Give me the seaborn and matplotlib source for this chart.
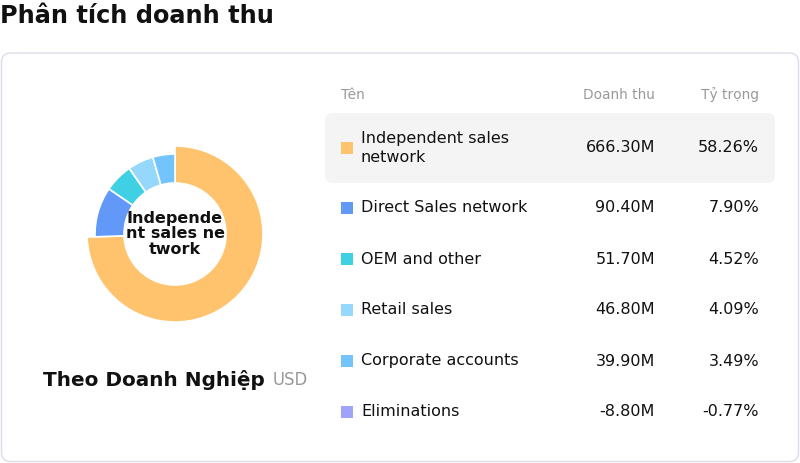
import matplotlib
matplotlib.use("Agg")
import matplotlib.pyplot as plt
from matplotlib.patches import FancyBboxPatch, Rectangle
import seaborn as sns

# data
names = ["Independent sales\nnetwork", "Direct Sales network", "OEM and other",
         "Retail sales", "Corporate accounts", "Eliminations"]
revenue = [666.30, 90.40, 51.70, 46.80, 39.90, -8.80]
share = [58.26, 7.90, 4.52, 4.09, 3.49, -0.77]
colors = ["#FFC36E", "#6299F9", "#3FD0E4", "#95D8FC", "#73C3FC", "#A0A3FA"]
center_label = "Independe\nnt sales ne\ntwork"

sns.set_theme(style="white")
plt.rcParams["font.family"] = ["DejaVu Sans"]

W, H = 800, 463
fig = plt.figure(figsize=(W / 100, H / 100), dpi=100)
fig.patch.set_facecolor("white")

# background axes in pixel coordinates
bg = fig.add_axes([0, 0, 1, 1])
bg.set_xlim(0, W)
bg.set_ylim(H, 0)
bg.axis("off")

def px(size):
    return size * 0.72

bg.text(0, 16, "Phân tích doanh thu", fontsize=px(24), fontweight="bold",
        color="#111111", va="center", ha="left")

card = FancyBboxPatch((1.5, 53), 797, 408.5, boxstyle="round,pad=0,rounding_size=9",
                      linewidth=1, edgecolor="#DDDCEC", facecolor="white")
bg.add_patch(card)

# table
bg.text(341, 95, "Tên", fontsize=px(13.8), color="#999999", va="center", ha="left")
bg.text(655, 95, "Doanh thu", fontsize=px(13.8), color="#999999", va="center", ha="right")
bg.text(759, 95, "Tỷ trọng", fontsize=px(13.8), color="#999999", va="center", ha="right")

hl = FancyBboxPatch((325, 113), 450, 70, boxstyle="round,pad=0,rounding_size=8",
                    linewidth=0, facecolor="#F4F4F4")
bg.add_patch(hl)

row_y = [148, 208, 259, 310, 361, 412]
for i, (n, r, s, c) in enumerate(zip(names, revenue, share, colors)):
    y = row_y[i]
    bg.add_patch(Rectangle((341, y - 6), 12, 12, facecolor=c, edgecolor="none"))
    bg.text(361, y, n, fontsize=px(16), color="#111111", va="center", ha="left",
            linespacing=1.4)
    bg.text(655, y, f"{r:.2f}M", fontsize=px(16), color="#111111", va="center", ha="right")
    bg.text(759, y, f"{s:.2f}%", fontsize=px(16), color="#111111", va="center", ha="right")

bg.text(43, 380, "Theo Doanh Nghiệp", fontsize=px(20), fontweight="bold",
        color="#111111", va="center", ha="left")
bg.text(273, 380, "USD", fontsize=px(16.5), color="#999999", va="center", ha="left")

# donut (selected slice drawn larger)
cx, cy, R = 175, 234, 88
r_in, r_out = 51 / R, 80 / R
ax = fig.add_axes([(cx - R) / W, 1 - (cy + R) / H, 2 * R / W, 2 * R / H])
pos_vals = [v for v in revenue if v > 0]
wedges, _ = ax.pie(pos_vals, colors=colors[:len(pos_vals)], startangle=90,
                   counterclock=False, radius=r_out,
                   wedgeprops=dict(width=r_out - r_in, edgecolor="white", linewidth=1.2))
wedges[0].set_radius(1.0)
wedges[0].set_width(1.0 - r_in)
ax.set_xlim(-1, 1)
ax.set_ylim(-1, 1)
ax.set_aspect("equal")
ax.axis("off")
ax.text(0, 0, center_label, fontsize=px(16), fontweight="bold", ha="center",
        va="center", color="#111111", linespacing=1.0)

fig.savefig("out.png", dpi=100, facecolor="white")
